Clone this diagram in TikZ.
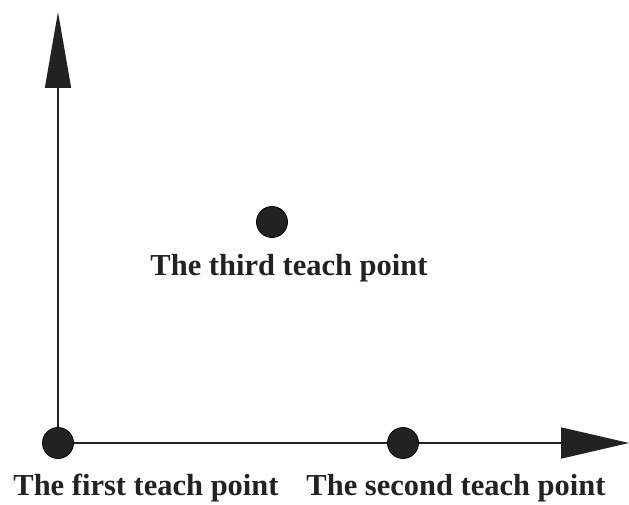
\documentclass[tikz,border=0pt]{standalone}
\usepackage{fontspec}
\setmainfont{Liberation Serif}
\usetikzlibrary{arrows.meta}
\definecolor{ink}{HTML}{222222}
\begin{document}
\begin{tikzpicture}[x=1pt,y=-1pt,
  dot/.style={circle,fill=ink,draw=black,line width=0.8pt,minimum size=31pt,inner sep=0pt},
  lbl/.style={font=\fontsize{30.5}{32}\selectfont\bfseries,text=ink,inner sep=0pt,anchor=base},
  axis/.style={line width=1.6pt,draw=ink}]
\useasboundingbox[fill=white] (0,0) rectangle (629,505);
\coordinate (ytip) at (58,12);
\coordinate (xtip) at (629,443);
\draw[axis,-{Triangle[length=76pt,width=26pt]}] (58,443) -- (ytip);
\draw[axis,-{Triangle[length=68pt,width=31pt]}] (58,443) -- (xtip);
\node[dot] (p1) at (58,443) {};
\node[dot] (p2) at (403,443) {};
\node[dot] (p3) at (272,222) {};
\node[lbl] (l3) at (289,275) {The third teach point};
\node[lbl] (l1) at (146,495) {The first teach point};
\node[lbl] (l2) at (456,495) {The second teach point};
\end{tikzpicture}
\end{document}
